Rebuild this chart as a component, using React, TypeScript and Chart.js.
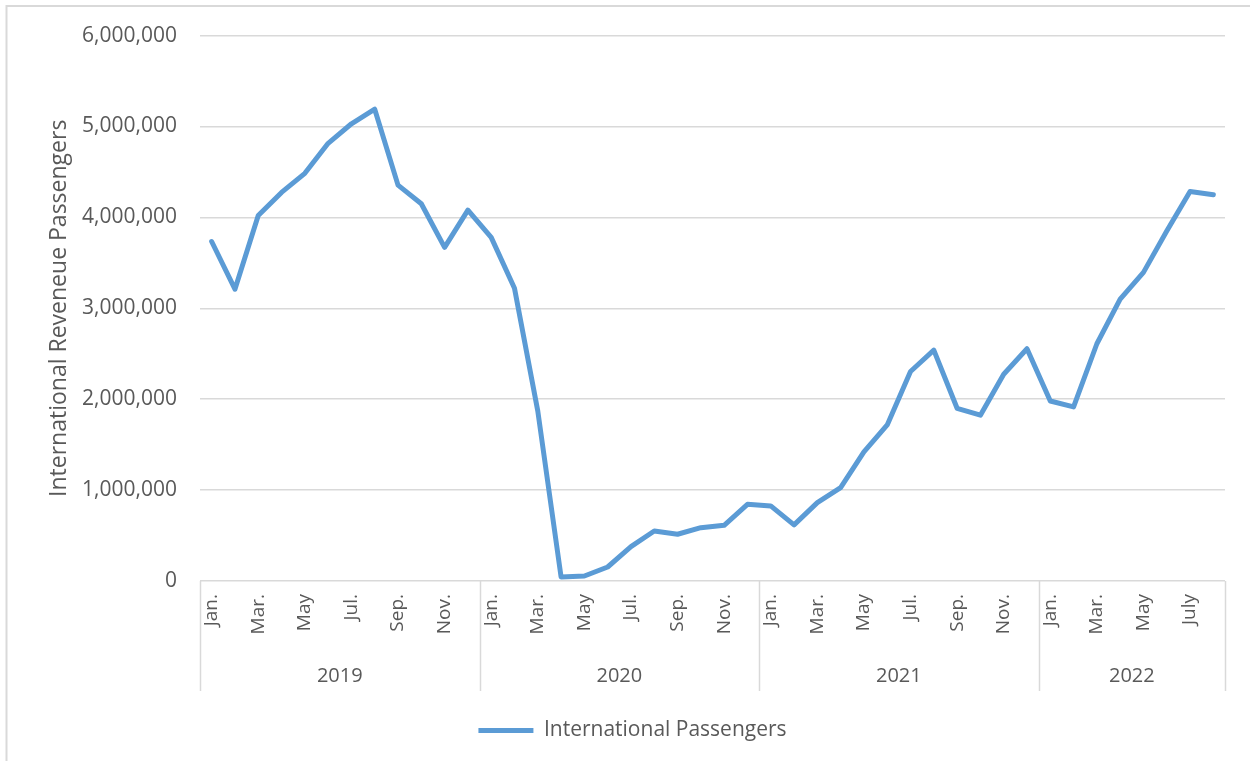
import React, { useEffect, useRef } from "react";
import { Chart, registerables } from "chart.js";

Chart.register(...registerables);

// ---- Data ----
const years = ["2019", "2020", "2021", "2022"];
const monthsPerYear = [12, 12, 12, 8];
const monthNames = ["Jan.", "Feb.", "Mar.", "Apr.", "May", "Jun.", "Jul.", "Aug.", "Sep.", "Oct.", "Nov.", "Dec."];
const monthNames2022 = ["Jan.", "Feb.", "Mar.", "Apr.", "May", "Jun.", "July", "Aug."];

const pax2019 = [3735000, 3210000, 4020000, 4275000, 4485000, 4815000, 5030000, 5190000, 4355000, 4150000, 3670000, 4080000];
const pax2020 = [3780000, 3220000, 1870000, 44000, 55000, 154000, 378000, 550000, 514000, 587000, 613000, 844000];
const pax2021 = [826000, 617000, 862000, 1027000, 1420000, 1717000, 2305000, 2540000, 1900000, 1824000, 2275000, 2555000];
const pax2022 = [1980000, 1915000, 2610000, 3100000, 3395000, 3850000, 4285000, 4250000];

const yTicks = [0, 1000000, 2000000, 3000000, 4000000, 5000000, 6000000];

const seriesName = "International Passengers";
const yTitle = "International Reveneue Passengers";

// ---- Derived ----
const monthLabels = [...monthNames, ...monthNames, ...monthNames, ...monthNames2022];
const values = [...pax2019, ...pax2020, ...pax2021, ...pax2022];

const FONT = '"Open Sans", sans-serif';
const TEXT = "#595959";
const GRID = "#d9d9d9";
const LINE = "#5b9bd5";

const groupPlugin = {
  id: "yearGroups",
  beforeDraw(chart: any) {
    const ctx = chart.ctx;
    ctx.save();
    ctx.strokeStyle = GRID;
    ctx.lineWidth = 2;
    ctx.beginPath();
    ctx.moveTo(6.5, 761);
    ctx.lineTo(6.5, 6);
    ctx.lineTo(1250, 6);
    ctx.stroke();
    ctx.restore();
  },
  afterDraw(chart: any) {
    const ctx = chart.ctx;
    const xs = chart.scales.x;
    const top = chart.chartArea.bottom;
    const lineBottom = top + 110;
    const yearY = top + 95;
    ctx.save();
    ctx.strokeStyle = GRID;
    ctx.lineWidth = 1.5;
    ctx.fillStyle = TEXT;
    ctx.font = `20px ${FONT}`;
    ctx.textAlign = "center";
    ctx.textBaseline = "middle";
    let start = 0;
    const bounds: number[] = [xs.left];
    for (let g = 0; g < years.length; g++) {
      const end = start + monthsPerYear[g];
      const left = g === 0 ? xs.left : (xs.getPixelForValue(start - 1) + xs.getPixelForValue(start)) / 2;
      const right = g === years.length - 1 ? xs.right : (xs.getPixelForValue(end - 1) + xs.getPixelForValue(end)) / 2;
      bounds.push(right);
      ctx.fillText(years[g], (left + right) / 2, yearY);
      start = end;
    }
    ctx.beginPath();
    for (const b of bounds) {
      const x = Math.round(b) + 0.5;
      ctx.moveTo(x, top);
      ctx.lineTo(x, lineBottom);
    }
    ctx.stroke();
    ctx.restore();
  },
};

export default function App() {
  const ref = useRef<HTMLCanvasElement>(null);

  useEffect(() => {
    if (!ref.current) return;
    const chart = new Chart(ref.current, {
      type: "line",
      data: {
        labels: monthLabels,
        datasets: [
          {
            label: seriesName,
            data: values,
            borderColor: LINE,
            backgroundColor: LINE,
            borderWidth: 5,
            borderJoinStyle: "round",
            borderCapStyle: "round",
            pointRadius: 0,
            pointHoverRadius: 0,
            tension: 0,
            fill: false,
          },
        ],
      },
      options: {
        responsive: false,
        animation: false,
        layout: { padding: { left: 40, right: 25, top: 35, bottom: 10 } },
        plugins: {
          tooltip: { enabled: false },
          legend: {
            position: "bottom",
            labels: {
              usePointStyle: true,
              pointStyle: "line",
              pointStyleWidth: 55,
              color: TEXT,
              font: { family: FONT, size: 21 },
              padding: 19,
            },
          },
        },
        scales: {
          x: {
            type: "category",
            offset: true,
            grid: { display: false, drawTicks: false },
            border: { display: false },
            ticks: {
              autoSkip: false,
              minRotation: 90,
              maxRotation: 90,
              padding: 13,
              color: TEXT,
              font: { family: FONT, size: 19 },
              callback: (_v: any, i: number) => (i % 2 === 0 ? monthLabels[i] : ""),
            },
            afterFit: (s: any) => {
              s.height = 120;
            },
          },
          y: {
            min: 0,
            max: 6000000,
            afterBuildTicks: (s: any) => {
              s.ticks = yTicks.map((v) => ({ value: v }));
            },
            grid: { color: GRID, lineWidth: 1.5, drawTicks: false },
            border: { display: false },
            ticks: {
              padding: 23,
              color: TEXT,
              font: { family: FONT, size: 21 },
              callback: (v: any) => Number(v).toLocaleString("en-US"),
            },
            title: {
              display: true,
              text: yTitle,
              color: TEXT,
              font: { family: FONT, size: 23 },
              padding: { top: 6, bottom: 0 },
            },
            afterFit: (s: any) => {
              s.width = 160;
            },
          },
        },
      },
      plugins: [groupPlugin],
    });
    return () => chart.destroy();
  }, []);

  return (
    <div style={{ position: "absolute", left: 0, top: 0, width: 1250, height: 761, background: "#fff" }}>
      <canvas ref={ref} width={1250} height={761} style={{ display: "block" }} />
    </div>
  );
}
